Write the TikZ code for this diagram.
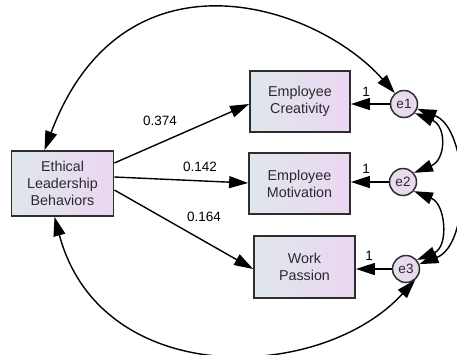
\documentclass[tikz,border=0pt]{standalone}
\usepackage{fontspec}
\setmainfont{Liberation Sans}
\usetikzlibrary{arrows.meta}
\definecolor{boxl}{HTML}{DFE7EB}
\definecolor{boxr}{HTML}{EBD6F2}
\definecolor{edgec}{HTML}{2E2E2E}
\definecolor{textc}{HTML}{2A2A2A}
\begin{document}
\begin{tikzpicture}[x=1pt,y=-1pt,
  >={Triangle[length=19pt,width=12pt]},
  obsbox/.style={draw=edgec, line width=1.8pt, left color=boxl, right color=boxr,
    inner sep=0pt, align=center, text=textc, font=\fontsize{14.3}{17}\selectfont},
  errc/.style={circle, draw=edgec, line width=1.5pt, left color=boxl!50!boxr, right color=boxr,
    minimum size=27pt, inner sep=0pt, text=textc, font=\fontsize{13.5}{15}\selectfont},
  conn/.style={->, line width=1.4pt, draw=black},
  covar/.style={<->, line width=1.4pt, draw=black},
  lbl/.style={text=black, font=\fontsize{13.5}{15}\selectfont, inner sep=1pt}]
\useasboundingbox (0,0) rectangle (457,354);
\node[obsbox, minimum width=102pt, minimum height=65pt] (elb) at (62.5,183.5) {Ethical\\Leadership\\Behaviors};
\node[obsbox, minimum width=100pt, minimum height=61pt] (cre) at (300,101.5) {Employee\\Creativity};
\node[obsbox, minimum width=101pt, minimum height=61pt] (mot) at (299.5,183.5) {Employee\\Motivation};
\node[obsbox, minimum width=101pt, minimum height=62pt] (wp) at (304.5,267) {Work\\Passion};
\node[errc] (e1) at (404,104) {e1};
\node[errc] (e2) at (403,182) {e2};
\node[errc] (e3) at (406,269) {e3};
% regression paths
\draw[conn] ([yshift=20.5pt]elb.east) -- ([yshift=-2.5pt]cre.west);
\draw[conn] ([yshift=6.5pt]elb.east) -- ([yshift=0.5pt]mot.west);
\draw[conn] ([yshift=-6.5pt]elb.east) -- ([yshift=-2pt]wp.west);
\node[lbl] (l1) at (160,121) {0.374};
\node[lbl] (l2) at (200,167) {0.142};
\node[lbl] (l3) at (204,217) {0.164};
% error paths
\draw[conn] (e1.west) -- (e1.west -| cre.east);
\draw[conn] (e2.west) -- (e2.west -| mot.east);
\draw[conn] (e3.west) -- (e3.west -| wp.east);
\node[lbl] (o1) at (366,92) {1};
\node[lbl] (o2) at (366,169) {1};
\node[lbl] (o3) at (369,256) {1};
% covariances
\draw[covar] ([xshift=-18pt]elb.north) .. controls (123,-58) and (315,3) .. (e1.130);
\draw[covar] ([xshift=-8pt]elb.south) .. controls (101,390) and (321,383) .. (e3.-50);
\draw[covar] (e1.-40) .. controls +(32,13) and +(32,-13) .. (e2.40);
\draw[covar] (e2.-40) .. controls +(32,13) and +(32,-13) .. (e3.40);
\draw[covar] (e1.-20) .. controls +(52,20) and +(52,-20) .. (e3.20);
\end{tikzpicture}
\end{document}
